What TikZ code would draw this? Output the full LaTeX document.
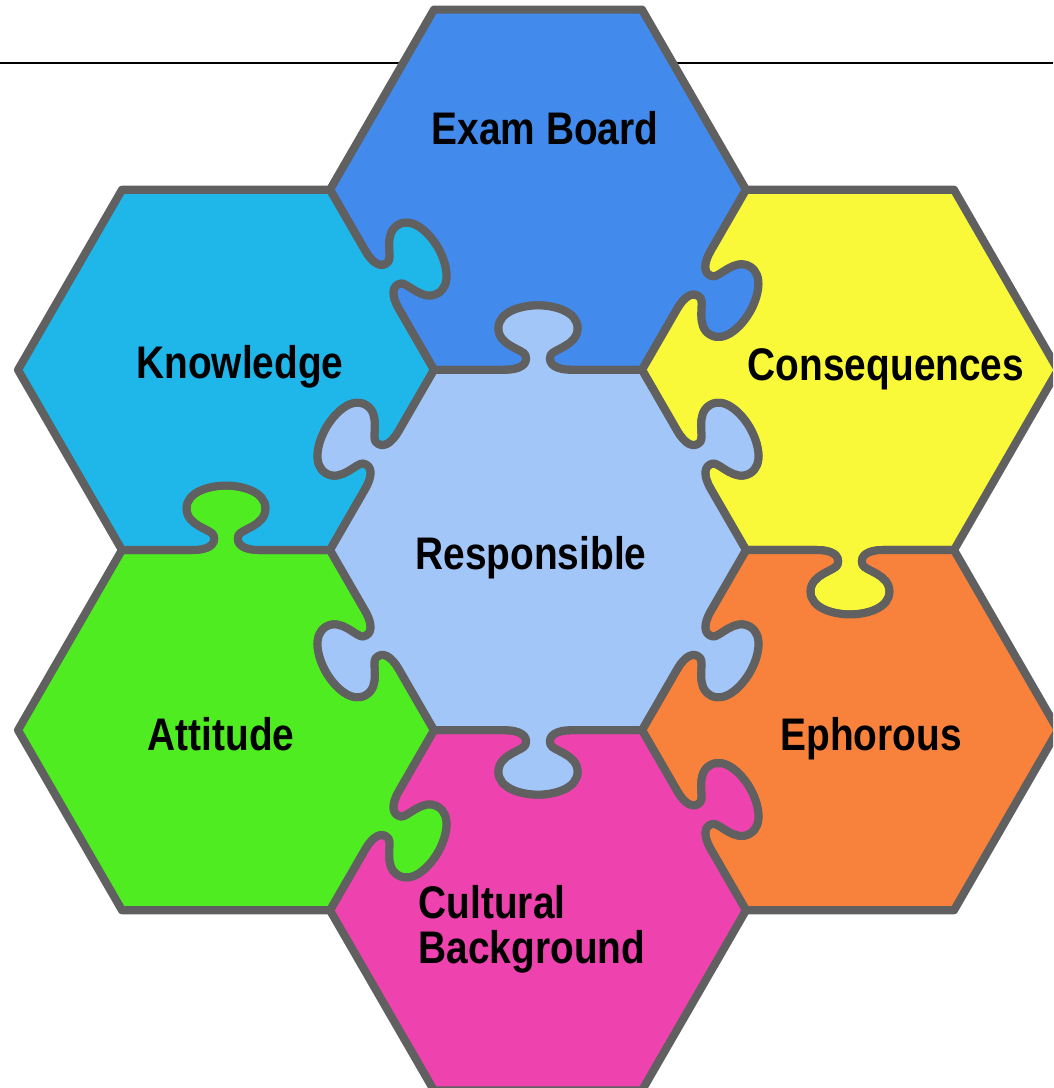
\documentclass[tikz,border=0pt]{standalone}
\usepackage{fontspec}
\setmainfont{Liberation Sans}[FakeStretch=0.85]
\usepackage{tikz}
\usetikzlibrary{calc}
\definecolor{examblue}{HTML}{428AEC}
\definecolor{knowcyan}{HTML}{1FB6EA}
\definecolor{consyellow}{HTML}{F9F93A}
\definecolor{ephorange}{HTML}{F8823B}
\definecolor{cultpink}{HTML}{EE43AE}
\definecolor{attgreen}{HTML}{50EC22}
\definecolor{respblue}{HTML}{A2C6F7}
\definecolor{edgegray}{HTML}{606060}

\newcommand{\hexside}{2.08}
% straight side #2 of the piece centred at #1
\newcommand{\sideplain}[2]{-- ($(#1)+(60*#2+60:\hexside)$)}
% side #2 with a tab: #3 = 1 tab goes in, -1 tab comes out
\newcommand{\sidetab}[3]{{[shift={($(#1)+(60*#2:\hexside)$)}, rotate={60*#2+120}, scale=\hexside, yscale=#3]
  -- (0.34,0) .. controls (0.41,0) and (0.455,0.025) .. (0.44,0.07)
  .. controls (0.43,0.10) and (0.31,0.115) .. (0.31,0.20)
  .. controls (0.31,0.28) and (0.42,0.31) .. (0.5,0.31)
  .. controls (0.58,0.31) and (0.69,0.28) .. (0.69,0.20)
  .. controls (0.69,0.115) and (0.57,0.10) .. (0.56,0.07)
  .. controls (0.545,0.025) and (0.59,0) .. (0.66,0)
  -- (1,0)}}

\begin{document}
\begin{tikzpicture}[
    piece/.style={draw=edgegray, line width=2.3pt, line join=round},
    piecetext/.style={font=\fontsize{13}{12.8}\selectfont\bfseries, inner sep=0pt}
  ]
  \useasboundingbox (-5.38,-5.38) rectangle (5.15,5.50);
  \clip (-5.38,-5.38) rectangle (5.15,5.50);

  % Centres of the seven pieces
  \coordinate (resp) at (0,0);
  \coordinate (exam) at (0,3.603);
  \coordinate (conseq) at (3.12,1.801);
  \coordinate (ephor) at (3.12,-1.801);
  \coordinate (cult) at (0,-3.603);
  \coordinate (attit) at (-3.12,-1.801);
  \coordinate (knowl) at (-3.12,1.801);

  % Rule behind the top piece
  \coordinate (ruleL) at (-5.38,4.87);
  \coordinate (ruleR) at (5.15,4.87);
  \draw[black, line width=0.5pt] (ruleL) -- (ruleR);

  % Outer ring
  \path[piece, fill=examblue] ($(exam)+(0:\hexside)$)
    \sideplain{exam}{0} \sideplain{exam}{1} \sideplain{exam}{2}
    \sidetab{exam}{3}{1} \sidetab{exam}{4}{1} \sidetab{exam}{5}{-1} -- cycle;
  \path[piece, fill=consyellow] ($(conseq)+(0:\hexside)$)
    \sideplain{conseq}{0} \sideplain{conseq}{1} \sidetab{conseq}{2}{1}
    \sidetab{conseq}{3}{1} \sidetab{conseq}{4}{-1} \sideplain{conseq}{5} -- cycle;
  \path[piece, fill=ephorange] ($(ephor)+(0:\hexside)$)
    \sideplain{ephor}{0} \sidetab{ephor}{1}{1} \sidetab{ephor}{2}{1}
    \sidetab{ephor}{3}{1} \sideplain{ephor}{4} \sideplain{ephor}{5} -- cycle;
  \path[piece, fill=cultpink] ($(cult)+(0:\hexside)$)
    \sidetab{cult}{0}{-1} \sidetab{cult}{1}{1} \sidetab{cult}{2}{1}
    \sideplain{cult}{3} \sideplain{cult}{4} \sideplain{cult}{5} -- cycle;
  \path[piece, fill=attgreen] ($(attit)+(0:\hexside)$)
    \sidetab{attit}{0}{1} \sidetab{attit}{1}{-1} \sideplain{attit}{2}
    \sideplain{attit}{3} \sideplain{attit}{4} \sidetab{attit}{5}{-1} -- cycle;
  \path[piece, fill=knowcyan] ($(knowl)+(0:\hexside)$)
    \sidetab{knowl}{0}{-1} \sideplain{knowl}{1} \sideplain{knowl}{2}
    \sideplain{knowl}{3} \sidetab{knowl}{4}{1} \sidetab{knowl}{5}{1} -- cycle;

  % Centre piece, tabs out on every side
  \path[piece, fill=respblue] ($(resp)+(0:\hexside)$)
    \foreach \k in {0,...,5} {\sidetab{resp}{\k}{-1}} -- cycle;

  % Labels
  \node[piecetext, anchor=base] (examlbl) at (0.07,4.05) {Exam Board};
  \node[piecetext, anchor=base] (knowlbl) at (-2.98,1.71) {Knowledge};
  \node[piecetext, anchor=base] (conslbl) at (3.48,1.70) {Consequences};
  \node[piecetext, anchor=base] (resplbl) at (-0.07,-0.20) {Responsible};
  \node[piecetext, anchor=base] (attlbl) at (-3.17,-2.00) {Attitude};
  \node[piecetext, anchor=base] (ephlbl) at (3.33,-2.00) {Ephorous};
  \node[piecetext, anchor=west, align=left] (cultlbl) at (-1.20,-3.79) {Cultural\\Background};
\end{tikzpicture}
\end{document}
